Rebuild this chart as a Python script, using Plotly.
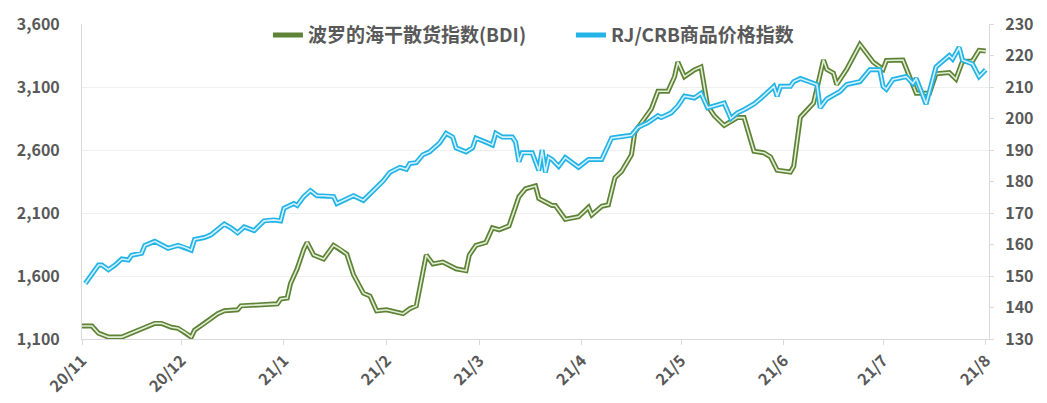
import plotly.graph_objects as go

# 波罗的海干散货指数 (left axis)
bdi_dates = [
    "2020-11-01", "2020-11-04", "2020-11-06", "2020-11-09", "2020-11-13", "2020-11-16",
    "2020-11-19", "2020-11-23", "2020-11-25", "2020-11-28", "2020-11-30", "2020-12-02",
    "2020-12-04", "2020-12-05", "2020-12-08", "2020-12-10", "2020-12-12", "2020-12-14",
    "2020-12-18", "2020-12-19", "2020-12-24", "2020-12-30", "2020-12-31", "2021-01-02",
    "2021-01-03", "2021-01-05", "2021-01-07", "2021-01-08", "2021-01-10", "2021-01-13",
    "2021-01-16", "2021-01-18", "2021-01-20", "2021-01-22", "2021-01-25", "2021-01-27",
    "2021-01-29", "2021-02-01", "2021-02-06", "2021-02-08", "2021-02-10", "2021-02-13",
    "2021-02-15", "2021-02-18", "2021-02-22", "2021-02-25", "2021-02-26", "2021-02-28",
    "2021-03-03", "2021-03-05", "2021-03-07", "2021-03-10", "2021-03-13", "2021-03-15",
    "2021-03-18", "2021-03-19", "2021-03-23", "2021-03-24", "2021-03-27", "2021-03-31",
    "2021-04-03", "2021-04-04", "2021-04-07", "2021-04-09", "2021-04-11", "2021-04-13",
    "2021-04-16", "2021-04-17", "2021-04-19", "2021-04-22", "2021-04-24", "2021-04-27",
    "2021-04-29", "2021-04-30", "2021-05-02", "2021-05-05", "2021-05-07", "2021-05-09",
    "2021-05-11", "2021-05-14", "2021-05-18", "2021-05-20", "2021-05-23", "2021-05-26",
    "2021-05-28", "2021-05-30", "2021-06-03", "2021-06-04", "2021-06-06", "2021-06-10",
    "2021-06-13", "2021-06-14", "2021-06-16", "2021-06-17", "2021-06-20", "2021-06-24",
    "2021-06-28", "2021-07-01", "2021-07-02", "2021-07-07", "2021-07-11", "2021-07-15",
    "2021-07-17", "2021-07-21", "2021-07-23", "2021-07-25", "2021-07-28", "2021-07-30",
    "2021-08-01",
]
bdi_values = [
    1203, 1203, 1146, 1115, 1115, 1146,
    1177, 1224, 1224, 1193, 1185, 1154,
    1115, 1170, 1224, 1263, 1301, 1324,
    1332, 1363, 1371, 1379, 1417, 1425,
    1541, 1657, 1812, 1866, 1766, 1735,
    1843, 1812, 1773, 1611, 1464, 1441,
    1324, 1332, 1301, 1340, 1363, 1766,
    1696, 1711, 1657, 1642, 1766, 1843,
    1866, 1982, 1967, 1998, 2230, 2292,
    2315, 2215, 2160, 2160, 2050, 2070,
    2145, 2085, 2153, 2165, 2380, 2430,
    2563, 2741, 2818, 2926, 3066, 3066,
    3182, 3298, 3182, 3236, 3259, 2950,
    2872, 2795, 2857, 2857, 2590, 2578,
    2545, 2440, 2425, 2470, 2860, 2973,
    3314, 3240, 3210, 3120, 3240, 3437,
    3298, 3240, 3310, 3314, 3050, 3050,
    3205, 3215, 3163, 3305, 3305, 3391,
    3385,
]

# RJ/CRB商品价格指数 (right axis)
crb_dates = [
    "2020-11-02", "2020-11-04", "2020-11-06", "2020-11-07", "2020-11-09", "2020-11-11",
    "2020-11-13", "2020-11-15", "2020-11-16", "2020-11-19", "2020-11-20", "2020-11-23",
    "2020-11-25", "2020-11-27", "2020-11-30", "2020-12-02", "2020-12-04", "2020-12-05",
    "2020-12-08", "2020-12-10", "2020-12-14", "2020-12-16", "2020-12-18", "2020-12-20",
    "2020-12-23", "2020-12-26", "2020-12-29", "2020-12-31", "2021-01-01", "2021-01-04",
    "2021-01-05", "2021-01-07", "2021-01-09", "2021-01-11", "2021-01-13", "2021-01-16",
    "2021-01-17", "2021-01-19", "2021-01-22", "2021-01-25", "2021-01-28", "2021-01-31",
    "2021-02-02", "2021-02-05", "2021-02-07", "2021-02-08", "2021-02-10", "2021-02-12",
    "2021-02-14", "2021-02-17", "2021-02-19", "2021-02-21", "2021-02-22", "2021-02-25",
    "2021-02-27", "2021-02-28", "2021-03-03", "2021-03-05", "2021-03-06", "2021-03-08",
    "2021-03-11", "2021-03-12", "2021-03-13", "2021-03-14", "2021-03-17", "2021-03-19",
    "2021-03-20", "2021-03-21", "2021-03-22", "2021-03-23", "2021-03-25", "2021-03-27",
    "2021-03-31", "2021-04-03", "2021-04-07", "2021-04-10", "2021-04-12", "2021-04-16",
    "2021-04-18", "2021-04-21", "2021-04-24", "2021-04-25", "2021-04-28", "2021-04-30",
    "2021-05-02", "2021-05-05", "2021-05-07", "2021-05-09", "2021-05-11", "2021-05-14",
    "2021-05-16", "2021-05-18", "2021-05-20", "2021-05-23", "2021-05-25", "2021-05-28",
    "2021-05-29", "2021-05-30", "2021-05-31", "2021-06-03", "2021-06-04", "2021-06-06",
    "2021-06-11", "2021-06-12", "2021-06-14", "2021-06-18", "2021-06-20", "2021-06-24",
    "2021-06-27", "2021-06-30", "2021-07-01", "2021-07-02", "2021-07-04", "2021-07-08",
    "2021-07-10", "2021-07-11", "2021-07-14", "2021-07-17", "2021-07-21", "2021-07-22",
    "2021-07-24", "2021-07-25", "2021-07-28", "2021-07-30", "2021-08-01",
]
crb_values = [
    147.6, 150.7, 153.5, 153.5, 152.0, 153.5,
    155.4, 155.1, 156.6, 157.2, 159.7, 161.0,
    160.0, 158.8, 159.7, 159.1, 158.2, 161.6,
    162.2, 163.1, 166.5, 165.3, 163.7, 165.6,
    164.4, 167.5, 167.8, 167.5, 171.5, 173.0,
    172.4, 175.2, 177.1, 175.5, 175.5, 175.2,
    173.0, 174.0, 175.5, 174.0, 177.1, 180.2,
    182.9, 184.5, 183.9, 185.7, 186.0, 188.5,
    189.4, 192.2, 195.3, 194.1, 190.7, 189.4,
    190.7, 193.8, 192.5, 191.6, 195.3, 194.1,
    194.1, 192.5, 186.3, 189.1, 189.1, 183.5,
    190.0, 182.9, 187.6, 187.0, 184.8, 187.6,
    184.5, 187.0, 187.0, 193.8, 194.1, 194.7,
    197.2, 198.7, 200.9, 200.3, 201.8, 204.0,
    207.1, 206.5, 208.0, 203.4, 204.0, 204.9,
    200.0, 201.8, 202.8, 204.6, 206.3, 209.3,
    210.2, 207.1, 210.2, 210.2, 211.7, 212.7,
    210.8, 203.4, 206.2, 208.6, 210.8, 211.7,
    215.5, 215.5, 210.2, 209.3, 212.4, 213.3,
    211.1, 212.7, 204.6, 216.4, 220.0, 218.9,
    222.6, 218.5, 217.3, 213.3, 215.5,
]

month_ticks = ["2020-11-01", "2020-12-01", "2021-01-01", "2021-02-01", "2021-03-01",
               "2021-04-01", "2021-05-01", "2021-06-01", "2021-07-01", "2021-08-01"]
month_labels = ["20/11", "20/12", "21/1", "21/2", "21/3", "21/4", "21/5", "21/6", "21/7", "21/8"]

left_ticks = [1100, 1600, 2100, 2600, 3100, 3600]
right_ticks = [130, 140, 150, 160, 170, 180, 190, 200, 210, 220, 230]

grey = "#595959"
font_cn = "Noto Sans CJK SC"

fig = go.Figure()

# double-line look: a dark wide stroke with a pale thin stroke on top
fig.add_trace(go.Scatter(x=bdi_dates, y=bdi_values, mode="lines", name="波罗的海干散货指数(BDI)",
                         line=dict(color="#5e8236", width=5), yaxis="y"))
fig.add_trace(go.Scatter(x=bdi_dates, y=bdi_values, mode="lines", showlegend=False,
                         line=dict(color="#e2efd6", width=1.6), yaxis="y", hoverinfo="skip"))
fig.add_trace(go.Scatter(x=crb_dates, y=crb_values, mode="lines", name="RJ/CRB商品价格指数",
                         line=dict(color="#22b4e6", width=5), yaxis="y2"))
fig.add_trace(go.Scatter(x=crb_dates, y=crb_values, mode="lines", showlegend=False,
                         line=dict(color="#d6f1fb", width=1.6), yaxis="y2", hoverinfo="skip"))

tick_font = dict(family=font_cn, size=16, color=grey, weight="bold")

# page body has an 8px margin, so the figure is a bit smaller than the window
fig.update_layout(
    width=1039, height=395,
    margin=dict(l=74, r=58, t=8, b=64),
    paper_bgcolor="white", plot_bgcolor="white",
    showlegend=True,
    legend=dict(orientation="h", x=0.205, xanchor="left", y=1.025, yanchor="top",
                font=dict(family=font_cn, size=19, color=grey, weight="bold"),
                bgcolor="rgba(0,0,0,0)", itemwidth=30,
                entrywidth=258, entrywidthmode="pixels"),
    xaxis=dict(
        type="date", range=["2020-11-01", "2021-08-02"], automargin=False,
        tickvals=month_ticks, ticktext=month_labels, tickangle=-45,
        tickfont=tick_font, showgrid=False,
        showline=True, linecolor="#d9d9d9", linewidth=1,
        ticks="outside", ticklen=5, tickcolor="#d9d9d9",
    ),
    yaxis=dict(
        range=[1100, 3600], tickvals=left_ticks, tickformat=",", automargin=False,
        tickfont=tick_font, showgrid=True, gridcolor="#efefef",
        showline=True, linecolor="#d9d9d9", zeroline=False, ticklabelstandoff=18,
    ),
    yaxis2=dict(
        range=[130, 230], tickvals=right_ticks, overlaying="y", side="right",
        automargin=False, tickfont=tick_font, showgrid=False,
        showline=True, linecolor="#d9d9d9", zeroline=False,
        ticks="outside", ticklen=4, tickcolor="#d9d9d9", ticklabelstandoff=8,
    ),
)

fig.write_html("out.html")
